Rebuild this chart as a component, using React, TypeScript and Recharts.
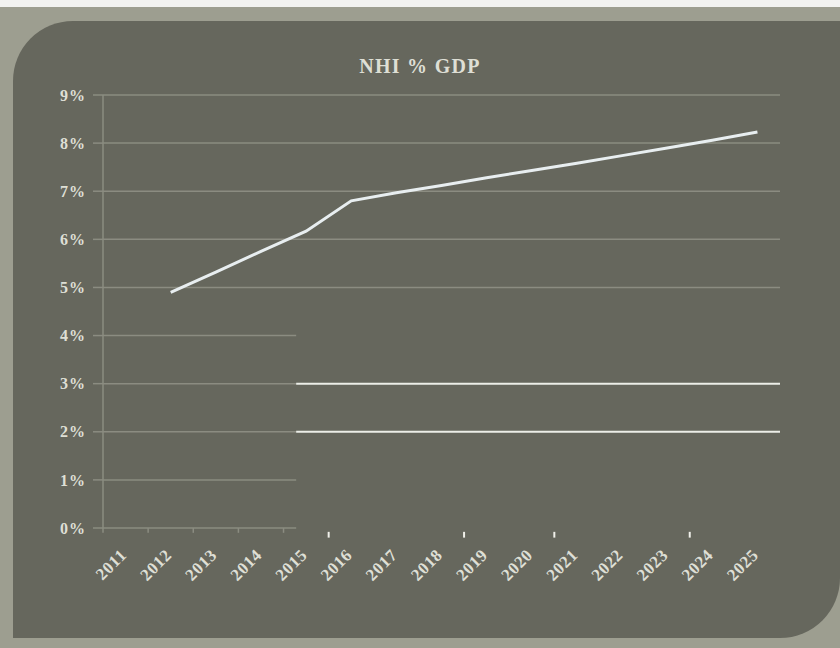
import { Line, LineChart, ReferenceLine, XAxis, YAxis } from "recharts";

const YEARS = ["2011", "2012", "2013", "2014", "2015", "2016", "2017", "2018", "2019", "2020", "2021", "2022", "2023", "2024", "2025"];
const NHI_PCT = [null, 4.9, 5.32, 5.75, 6.17, 6.8, 6.97, 7.12, 7.28, 7.43, 7.58, 7.74, 7.9, 8.06, 8.23];
const Y_TICKS = [0, 1, 2, 3, 4, 5, 6, 7, 8, 9];

// gridline quirks of the source picture (values in % and category slots)
const FULL_GRID = [5, 6, 7, 8, 9];
const SHORT_GRID = [0, 1, 4];
const BRIGHT_GRID = [2, 3];
const OVERLAY_START = 4.28;
const DIM_EDGE_TICKS = [0, 1, 2, 3, 4];
const BRIGHT_EDGE_TICKS = [5, 8, 10, 13];

const data = YEARS.map((year, i) => ({ year, slot: i + 0.5, pct: NHI_PCT[i] }));

const SERIF = '"Liberation Serif", "Times New Roman", serif';
const TEXT = "#dedfd5";
const GRID = "#8b8c81";

function YearTick({ x, y, payload }: any) {
  return (
    <g transform={`translate(${x + 2},${y + 20})`}>
      <text
        x={0}
        y={0}
        textAnchor="end"
        transform="rotate(-45)"
        fill={TEXT}
        fontFamily={SERIF}
        fontWeight="bold"
        fontSize={17}
        letterSpacing={0.6}
      >
        {payload.value}
      </text>
    </g>
  );
}

export default function App() {
  return (
    <div style={{ position: "relative", width: 840, height: 648, background: "#9d9e90", overflow: "hidden" }}>
      <style>{`body{margin:0}`}</style>
      <div style={{ position: "absolute", left: 0, top: 0, width: 840, height: 7, background: "#f2f2f0" }} />
      <div
        style={{
          position: "absolute",
          left: 13,
          top: 21,
          width: 827,
          height: 617,
          background: "#66675d",
          borderRadius: "60px 0 60px 0",
        }}
      />
      <div
        style={{
          position: "absolute",
          top: 55,
          width: 840,
          textAlign: "center",
          fontFamily: SERIF,
          fontWeight: "bold",
          fontSize: 20,
          letterSpacing: 1.3,
          color: TEXT,
        }}
      >
        NHI % GDP
      </div>
      <div style={{ position: "absolute", left: 0, top: 0 }}>
        <LineChart width={840} height={648} data={data} margin={{ top: 95, right: 60, bottom: 90, left: 43 }}>
          <XAxis dataKey="year" scale="band" interval={0} tickLine={false} axisLine={false} tick={<YearTick />} />
          <XAxis xAxisId="n" dataKey="slot" type="number" domain={[0, 15]} allowDataOverflow hide />
          <YAxis
            domain={[0, 9]}
            ticks={Y_TICKS}
            tickFormatter={(v) => `${v}%`}
            axisLine={{ stroke: GRID, strokeWidth: 1.5 }}
            tickLine={{ stroke: GRID, strokeWidth: 1.5 }}
            tickSize={10}
            tickMargin={7}
            tick={{ fill: TEXT, fontFamily: SERIF, fontWeight: "bold", fontSize: 16, letterSpacing: 1 }}
          />
          {FULL_GRID.map((v) => (
            <ReferenceLine key={`f${v}`} xAxisId="n" ifOverflow="visible" segment={[{ x: 0, y: v }, { x: 15, y: v }]} stroke={GRID} strokeWidth={1.5} />
          ))}
          {[...SHORT_GRID, ...BRIGHT_GRID].map((v) => (
            <ReferenceLine key={`s${v}`} xAxisId="n" ifOverflow="visible" segment={[{ x: 0, y: v }, { x: OVERLAY_START, y: v }]} stroke={GRID} strokeWidth={1.5} />
          ))}
          {BRIGHT_GRID.map((v) => (
            <ReferenceLine key={`b${v}`} xAxisId="n" ifOverflow="visible" segment={[{ x: OVERLAY_START, y: v }, { x: 15, y: v }]} stroke="#eceee8" strokeWidth={2} />
          ))}
          {DIM_EDGE_TICKS.map((k) => (
            <ReferenceLine key={`dt${k}`} xAxisId="n" ifOverflow="visible" segment={[{ x: k, y: 0 }, { x: k, y: -0.1 }]} stroke={GRID} strokeWidth={1.5} />
          ))}
          {BRIGHT_EDGE_TICKS.map((k) => (
            <ReferenceLine key={`bt${k}`} xAxisId="n" ifOverflow="visible" segment={[{ x: k, y: -0.08 }, { x: k, y: -0.2 }]} stroke="#f0f0ea" strokeWidth={2} />
          ))}
          <Line dataKey="pct" stroke="#e8eef0" strokeWidth={3} dot={false} isAnimationActive={false} />
        </LineChart>
      </div>
    </div>
  );
}
